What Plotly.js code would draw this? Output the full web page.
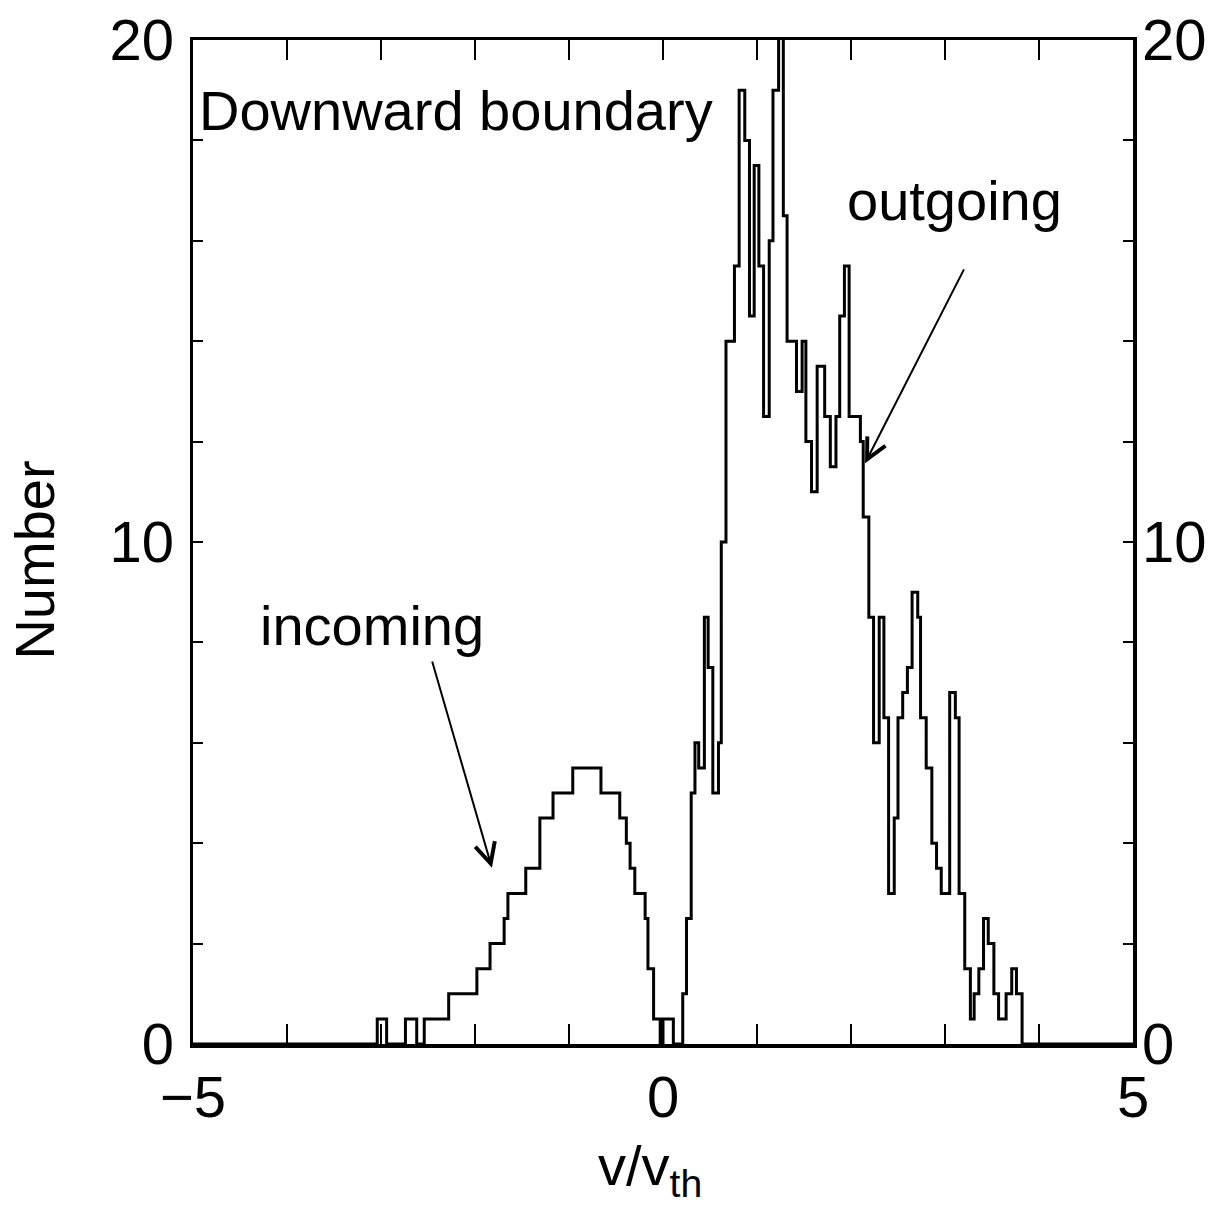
<!DOCTYPE html>
<html>
<head>
<meta charset="utf-8">
<script src="https://cdn.plot.ly/plotly-3.0.1.min.js"></script>
<style>html,body{margin:0;padding:0;background:#fff;}#chart{width:1215px;height:1209px;}</style>
</head>
<body>
<div id="chart"></div>
<script>
// Left edge of each histogram step (v/v_th) and the Number level of that step
const stepLeft = [-3.04, -2.94, -2.74, -2.62, -2.54, -2.28, -1.98, -1.84, -1.69, -1.65,
  -1.46, -1.31, -1.17, -0.96, -0.66, -0.46, -0.39, -0.35, -0.30, -0.19,
  -0.16, -0.10, -0.03, 0.00, 0.11, 0.21, 0.25, 0.30, 0.34, 0.38,
  0.44, 0.48, 0.53, 0.59, 0.62, 0.67, 0.76, 0.81, 0.87, 0.92,
  0.97, 1.02, 1.07, 1.13, 1.17, 1.23, 1.28, 1.32, 1.42, 1.48,
  1.52, 1.58, 1.64, 1.72, 1.78, 1.84, 1.88, 1.93, 1.98, 2.10,
  2.13, 2.19, 2.24, 2.30, 2.35, 2.40, 2.46, 2.50, 2.55, 2.60,
  2.65, 2.71, 2.74, 2.80, 2.86, 2.91, 2.96, 3.05, 3.11, 3.15,
  3.21, 3.27, 3.31, 3.36, 3.41, 3.46, 3.52, 3.57, 3.65, 3.71,
  3.76, 3.82];
const stepValue = [0.5, 0, 0.5, 0, 0.5, 1.0, 1.5, 2.0, 2.5, 3.0,
  3.5, 4.5, 5.0, 5.5, 5.0, 4.5, 4.0, 3.5, 3.0, 2.5,
  1.5, 0.5, 0, 0.5, 0, 1.0, 2.5, 5.0, 6.0, 5.5,
  8.5, 7.5, 5.0, 6.0, 10.0, 14.0, 15.5, 19.0, 18.0, 14.5,
  17.5, 15.5, 12.5, 16.0, 19.0, 20.5, 16.5, 14.0, 13.0, 14.0,
  12.0, 11.0, 13.5, 12.5, 11.5, 12.5, 14.5, 15.5, 12.5, 12.0,
  10.5, 8.5, 6.0, 8.5, 6.5, 3.0, 4.5, 6.5, 7.0, 7.5,
  9.0, 8.5, 6.5, 5.5, 4.0, 3.5, 3.0, 7.0, 6.5, 3.0,
  1.5, 0.5, 1.0, 1.5, 2.5, 2.0, 1.0, 0.5, 1.0, 1.5,
  1.0, 0];

const xRange = [-5, 5];
const yRange = [0, 20];

const xs = [xRange[0]].concat(stepLeft, [xRange[1]]);
const ys = [0].concat(stepValue, [0]);

const FONT = 'Liberation Sans, Arial, Helvetica, sans-serif';
const TICKSIZE = 58;

const traces = [
  {x: xs, y: ys, type: 'scatter', mode: 'lines', line: {shape: 'hv', color: '#000', width: 3},
   hoverinfo: 'skip', showlegend: false},
  {x: xs, y: ys, type: 'scatter', mode: 'lines', yaxis: 'y2', line: {shape: 'hv', color: 'rgba(0,0,0,0)', width: 0},
   hoverinfo: 'skip', showlegend: false}
];

const layout = {
  width: 1215, height: 1209,
  margin: {l: 193, r: 82, t: 40, b: 165},
  paper_bgcolor: '#fff', plot_bgcolor: '#fff',
  font: {family: FONT, color: '#000', size: TICKSIZE},
  showlegend: false,
  xaxis: {
    range: xRange, tickmode: 'linear', tick0: -5, dtick: 5,
    ticks: 'inside', ticklen: 20, tickwidth: 2, tickcolor: '#000',
    minor: {dtick: 1, ticks: 'inside', ticklen: 20, tickwidth: 2, tickcolor: '#000', showgrid: false},
    showline: true, linewidth: 3.5, linecolor: '#000', mirror: 'allticks',
    showgrid: false, zeroline: false,
    tickfont: {size: TICKSIZE, family: FONT, color: '#000'}
  },
  yaxis: {
    range: yRange, tickmode: 'linear', tick0: 0, dtick: 10,
    ticks: 'inside', ticklen: 10, tickwidth: 2, tickcolor: '#000',
    minor: {dtick: 2, ticks: 'inside', ticklen: 10, tickwidth: 2, tickcolor: '#000', showgrid: false},
    showline: true, linewidth: 3.5, linecolor: '#000', mirror: 'allticks',
    showgrid: false, zeroline: false, ticklabelstandoff: 4,
    tickfont: {size: TICKSIZE, family: FONT, color: '#000'}
  },
  yaxis2: {
    overlaying: 'y', side: 'right', range: yRange, tickmode: 'linear', tick0: 0, dtick: 10,
    ticks: '', showline: false, showgrid: false, zeroline: false, ticklabelstandoff: 8,
    tickfont: {size: TICKSIZE, family: FONT, color: '#000'}
  },
  annotations: [
    {text: 'Downward boundary', xref: 'x', yref: 'y', x: -4.96, y: 18.59, xanchor: 'left', yanchor: 'middle',
     showarrow: false, font: {size: 56, family: FONT, color: '#000'}},
    {text: 'incoming', xref: 'x', yref: 'y', x: -3.10, y: 8.33, xanchor: 'center', yanchor: 'middle',
     showarrow: false, font: {size: 56, family: FONT, color: '#000'}},
    {text: 'outgoing', xref: 'x', yref: 'y', x: 3.10, y: 16.8, xanchor: 'center', yanchor: 'middle',
     showarrow: false, font: {size: 56, family: FONT, color: '#000'}},
    {text: '', xref: 'x', yref: 'y', axref: 'x', ayref: 'y', x: -1.82, y: 3.51, ax: -2.46, ay: 7.65,
     showarrow: true, arrowhead: 5, arrowsize: 2, arrowwidth: 2, arrowcolor: '#000', standoff: 0},
    {text: '', xref: 'x', yref: 'y', axref: 'x', ayref: 'y', x: 2.15, y: 11.57, ax: 3.21, ay: 15.46,
     showarrow: true, arrowhead: 5, arrowsize: 2, arrowwidth: 2, arrowcolor: '#000', standoff: 0},
    {text: 'Number', xref: 'paper', yref: 'paper', x: -0.1686, y: 0.482, xanchor: 'center', yanchor: 'middle',
     textangle: -90, showarrow: false, font: {size: 56, family: FONT, color: '#000'}},
    {text: 'v/v<sub>th</sub>', xref: 'paper', yref: 'paper', x: 0.486, y: -0.125, xanchor: 'center', yanchor: 'middle',
     showarrow: false, font: {size: 56, family: FONT, color: '#000'}}
  ]
};

Plotly.newPlot('chart', traces, layout, {staticPlot: true, displayModeBar: false});
</script>
</body>
</html>
